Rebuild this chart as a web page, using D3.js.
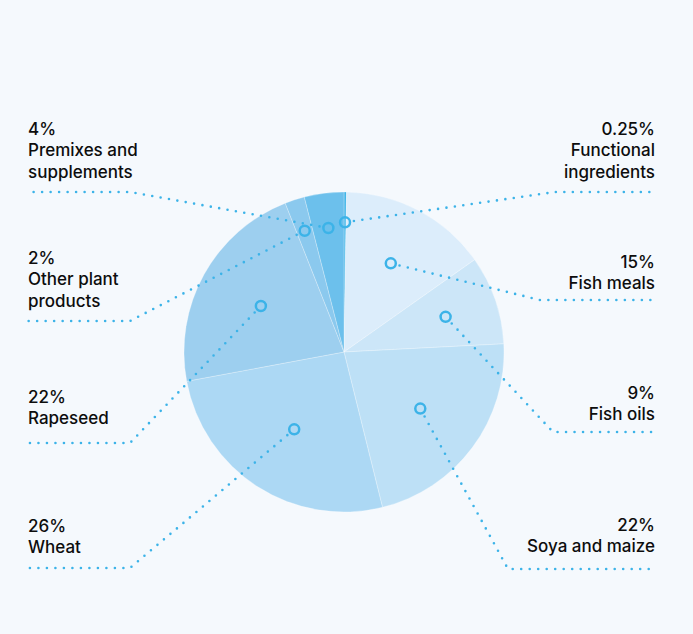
<!DOCTYPE html>
<html>
<head>
<meta charset="utf-8">
<script src="https://cdn.jsdelivr.net/npm/d3@7"></script>
<style>
  html, body { margin: 0; padding: 0; background: #f5f9fd; }
  svg { display: block; }
  text { font-family: Inter, "Noto Sans", sans-serif; font-size: 17px; font-weight: 500; fill: #0d0d0d; }
</style>
</head>
<body>
<svg id="chart"></svg>
<script>
var width = 693;
var height = 634;

// data, clockwise from 12 o'clock
var categories = ["Functional ingredients", "Fish meals", "Fish oils", "Soya and maize",
                  "Wheat", "Rapeseed", "Other plant products", "Premixes and supplements"];
var values = [0.25, 15, 9, 22, 26, 22, 2, 4];
var pctLabels = ["0.25%", "15%", "9%", "22%", "26%", "22%", "2%", "4%"];
var nameLines = [["Functional", "ingredients"], ["Fish meals"], ["Fish oils"], ["Soya and maize"],
                 ["Wheat"], ["Rapeseed"], ["Other plant", "products"], ["Premixes and", "supplements"]];
var colors = ["#3db3e8", "#dcedfb", "#cce6f8", "#bde0f6", "#acd8f4", "#9dcfef", "#8bc9ee", "#6cc0ec"];

// label layout: side, first text baseline, dotted leader baseline, elbow x
var labelSide = ["right", "right", "right", "right", "left", "left", "left", "left"];
var textY = [135, 268, 399, 531, 532, 403, 264, 135];
var leaderY = [192, 300, 432, 569, 568, 443, 321, 192];
var elbowX = [555, 540, 553, 508, 130, 130, 130, 130];

var cx = 344, cy = 352, radius = 160;
var lineColor = "#3cb3e8";

var svg = d3.select("#chart")
  .attr("width", width)
  .attr("height", height);

svg.append("rect").attr("width", width).attr("height", height).attr("fill", "#f5f9fd");

var data = categories.map(function(c, i) {
  return { name: c, value: values[i], pct: pctLabels[i], lines: nameLines[i], color: colors[i],
           side: labelSide[i], ty: textY[i], ly: leaderY[i], ex: elbowX[i] };
});

var pie = d3.pie().sort(null).value(function(d) { return d.value; });
var arc = d3.arc().innerRadius(0).outerRadius(radius);
var arcs = pie(data);

var g = svg.append("g").attr("transform", "translate(" + cx + "," + cy + ")");

g.selectAll("path.slice")
  .data(arcs)
  .enter()
  .append("path")
  .attr("class", "slice")
  .attr("d", arc)
  .attr("fill", function(d) { return d.data.color; })
  .attr("stroke", "rgba(255,255,255,0.35)")
  .attr("stroke-width", 0.8);

// marker distance from centre: thin slices sit further out
var markerR = d3.scaleLinear().domain([0, 4, 10, 26]).range([130, 125, 104, 92]).clamp(true);

function markerPos(d) {
  var a = (d.startAngle + d.endAngle) / 2;
  var r = markerR(d.data.value);
  return [cx + r * Math.sin(a), cy - r * Math.cos(a)];
}

// dotted leaders
var lines = svg.append("g");
arcs.forEach(function(d) {
  var m = markerPos(d);
  var endX = d.data.side === "left" ? 28 : 655;
  var dx = d.data.ex - m[0], dy = d.data.ly - m[1];
  var len = Math.sqrt(dx * dx + dy * dy);
  var start = [m[0] + dx / len * 9, m[1] + dy / len * 9];
  var pts = [start, [d.data.ex, d.data.ly], [endX, d.data.ly]];
  lines.append("path")
    .attr("d", d3.line()(pts))
    .attr("fill", "none")
    .attr("stroke", lineColor)
    .attr("stroke-width", 2.6)
    .attr("stroke-linecap", "round")
    .attr("stroke-dasharray", "0 8.5");
});

// markers
svg.selectAll("circle.marker")
  .data(arcs)
  .enter()
  .append("circle")
  .attr("class", "marker")
  .attr("cx", function(d) { return markerPos(d)[0]; })
  .attr("cy", function(d) { return markerPos(d)[1]; })
  .attr("r", 5)
  .attr("fill", "none")
  .attr("stroke", lineColor)
  .attr("stroke-width", 2.5);

// labels
var lineH = 21.3;
arcs.forEach(function(d) {
  var left = d.data.side === "left";
  var x = left ? 28 : 655;
  var all = [d.data.pct].concat(d.data.lines);
  var t = svg.append("text")
    .attr("text-anchor", left ? "start" : "end");
  all.forEach(function(s, i) {
    t.append("tspan")
      .attr("x", x)
      .attr("y", d.data.ty + i * lineH)
      .text(s);
  });
});
</script>
</body>
</html>
